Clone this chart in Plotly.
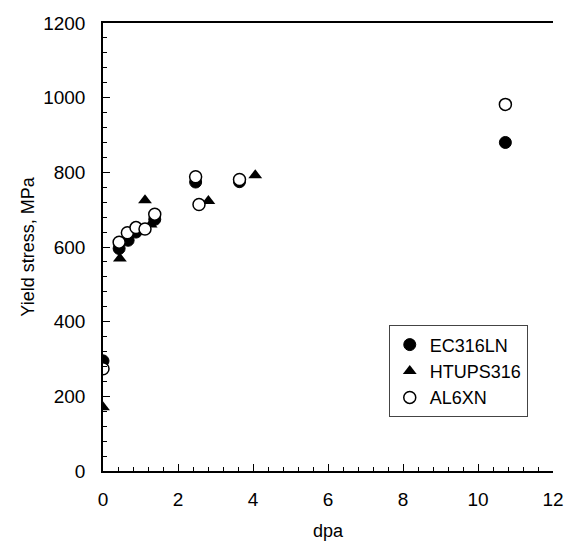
import plotly.graph_objects as go

ec_x = [0, 0.43, 0.67, 0.88, 1.38, 2.47, 3.64, 10.73]
ec_y = [295, 596, 618, 640, 674, 774, 775, 880]
ht_x = [0, 0.45, 1.12, 1.27, 2.81, 4.06]
ht_y = [171, 569, 725, 660, 723, 792]
al_x = [0, 0.43, 0.65, 0.88, 1.12, 1.38, 2.47, 2.56, 3.64, 10.73]
al_y = [274, 613, 638, 652, 648, 688, 788, 714, 781, 982]

font = "Liberation Sans, Arial, sans-serif"

fig = go.Figure()
fig.add_trace(go.Scatter(x=ec_x, y=ec_y, mode="markers", name="EC316LN",
                         marker=dict(symbol="circle", size=12, color="black",
                                     line=dict(color="black", width=1))))
fig.add_trace(go.Scatter(x=ht_x, y=ht_y, mode="markers", name="HTUPS316",
                         marker=dict(symbol="triangle-up", size=12, color="black",
                                     line=dict(color="black", width=0))))
fig.add_trace(go.Scatter(x=al_x, y=al_y, mode="markers", name="AL6XN",
                         marker=dict(symbol="circle", size=12, color="white",
                                     line=dict(color="black", width=1.5))))

fig.update_layout(
    width=572, height=542,
    margin=dict(l=103, r=19, t=23, b=71),
    plot_bgcolor="white", paper_bgcolor="white",
    font=dict(family=font, size=19, color="black"),
    showlegend=True,
    legend=dict(x=0.635, y=0.325, xanchor="left", yanchor="top",
                bordercolor="#444", borderwidth=1, bgcolor="white",
                font=dict(size=18), itemwidth=30, tracegroupgap=0),
    xaxis=dict(range=[0, 12], dtick=2, showgrid=False, zeroline=False,
               showline=True, linecolor="black", linewidth=1.5, mirror=True,
               ticks="inside", ticklen=7, tickcolor="black", ticklabelstandoff=10,
               automargin=False,
               minor=dict(dtick=0.4, ticks="inside", ticklen=4, tickcolor="black"),
               title=dict(text="dpa", font=dict(size=18), standoff=16)),
    yaxis=dict(range=[0, 1200], dtick=200, showgrid=False, zeroline=False,
               showline=True, linecolor="black", linewidth=1.5,
               ticks="inside", ticklen=7, tickcolor="black", ticklabelstandoff=12,
               minor=dict(dtick=40, ticks="inside", ticklen=4, tickcolor="black"),
               title=dict(text="Yield stress, MPa", font=dict(size=18), standoff=4)),
)

fig.write_html("out.html")
